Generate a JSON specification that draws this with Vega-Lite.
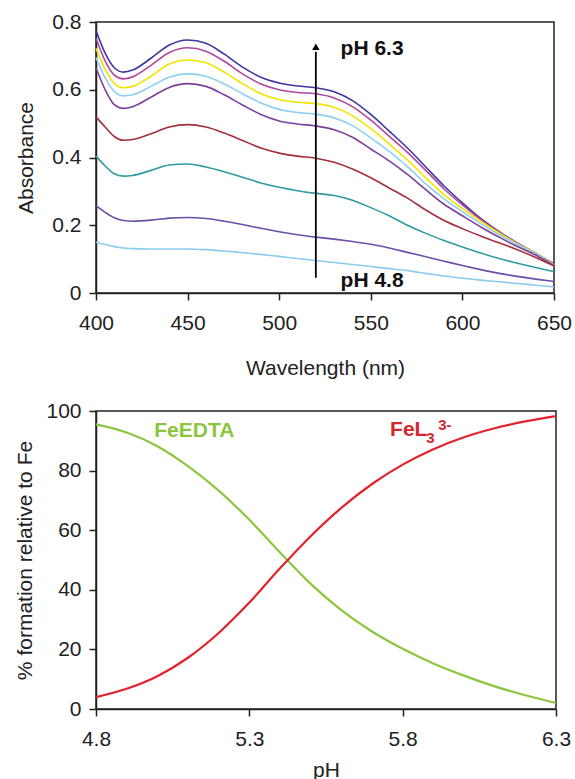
{
  "$schema": "https://vega.github.io/schema/vega-lite/v6.json",
  "padding": {"left": 14, "top": 10, "right": 10, "bottom": 0},
  "spacing": 20,
  "resolve": {"scale": {"color": "independent"}},
  "datasets": {
    "spectra": [
      {"w":400,"a":0.775,"s":"c9"},{"w":405,"a":0.708,"s":"c9"},{"w":410,"a":0.665,"s":"c9"},{"w":415,"a":0.652,"s":"c9"},{"w":420,"a":0.658,"s":"c9"},{"w":430,"a":0.693,"s":"c9"},{"w":440,"a":0.732,"s":"c9"},{"w":450,"a":0.747,"s":"c9"},{"w":460,"a":0.737,"s":"c9"},{"w":470,"a":0.705,"s":"c9"},{"w":480,"a":0.667,"s":"c9"},{"w":490,"a":0.637,"s":"c9"},{"w":500,"a":0.62,"s":"c9"},{"w":510,"a":0.611,"s":"c9"},{"w":520,"a":0.606,"s":"c9"},{"w":530,"a":0.594,"s":"c9"},{"w":540,"a":0.568,"s":"c9"},{"w":550,"a":0.527,"s":"c9"},{"w":560,"a":0.478,"s":"c9"},{"w":570,"a":0.428,"s":"c9"},{"w":580,"a":0.372,"s":"c9"},{"w":590,"a":0.316,"s":"c9"},{"w":600,"a":0.266,"s":"c9"},{"w":610,"a":0.22,"s":"c9"},{"w":620,"a":0.181,"s":"c9"},{"w":630,"a":0.147,"s":"c9"},{"w":640,"a":0.116,"s":"c9"},{"w":650,"a":0.086,"s":"c9"},
      {"w":400,"a":0.752,"s":"c8"},{"w":405,"a":0.685,"s":"c8"},{"w":410,"a":0.643,"s":"c8"},{"w":415,"a":0.632,"s":"c8"},{"w":420,"a":0.638,"s":"c8"},{"w":430,"a":0.672,"s":"c8"},{"w":440,"a":0.71,"s":"c8"},{"w":450,"a":0.724,"s":"c8"},{"w":460,"a":0.714,"s":"c8"},{"w":470,"a":0.684,"s":"c8"},{"w":480,"a":0.647,"s":"c8"},{"w":490,"a":0.617,"s":"c8"},{"w":500,"a":0.6,"s":"c8"},{"w":510,"a":0.592,"s":"c8"},{"w":520,"a":0.588,"s":"c8"},{"w":530,"a":0.576,"s":"c8"},{"w":540,"a":0.55,"s":"c8"},{"w":550,"a":0.51,"s":"c8"},{"w":560,"a":0.463,"s":"c8"},{"w":570,"a":0.415,"s":"c8"},{"w":580,"a":0.362,"s":"c8"},{"w":590,"a":0.307,"s":"c8"},{"w":600,"a":0.26,"s":"c8"},{"w":610,"a":0.217,"s":"c8"},{"w":620,"a":0.18,"s":"c8"},{"w":630,"a":0.147,"s":"c8"},{"w":640,"a":0.118,"s":"c8"},{"w":650,"a":0.084,"s":"c8"},
      {"w":400,"a":0.722,"s":"c7"},{"w":405,"a":0.66,"s":"c7"},{"w":410,"a":0.618,"s":"c7"},{"w":415,"a":0.606,"s":"c7"},{"w":420,"a":0.61,"s":"c7"},{"w":430,"a":0.64,"s":"c7"},{"w":440,"a":0.676,"s":"c7"},{"w":450,"a":0.688,"s":"c7"},{"w":460,"a":0.68,"s":"c7"},{"w":470,"a":0.652,"s":"c7"},{"w":480,"a":0.618,"s":"c7"},{"w":490,"a":0.588,"s":"c7"},{"w":500,"a":0.571,"s":"c7"},{"w":510,"a":0.563,"s":"c7"},{"w":520,"a":0.559,"s":"c7"},{"w":530,"a":0.548,"s":"c7"},{"w":540,"a":0.523,"s":"c7"},{"w":550,"a":0.485,"s":"c7"},{"w":560,"a":0.44,"s":"c7"},{"w":570,"a":0.393,"s":"c7"},{"w":580,"a":0.34,"s":"c7"},{"w":590,"a":0.29,"s":"c7"},{"w":600,"a":0.25,"s":"c7"},{"w":610,"a":0.212,"s":"c7"},{"w":620,"a":0.177,"s":"c7"},{"w":630,"a":0.145,"s":"c7"},{"w":640,"a":0.117,"s":"c7"},{"w":650,"a":0.083,"s":"c7"},
      {"w":400,"a":0.695,"s":"c6"},{"w":405,"a":0.635,"s":"c6"},{"w":410,"a":0.595,"s":"c6"},{"w":415,"a":0.582,"s":"c6"},{"w":420,"a":0.585,"s":"c6"},{"w":430,"a":0.61,"s":"c6"},{"w":440,"a":0.637,"s":"c6"},{"w":450,"a":0.647,"s":"c6"},{"w":460,"a":0.64,"s":"c6"},{"w":470,"a":0.617,"s":"c6"},{"w":480,"a":0.588,"s":"c6"},{"w":490,"a":0.561,"s":"c6"},{"w":500,"a":0.542,"s":"c6"},{"w":510,"a":0.533,"s":"c6"},{"w":520,"a":0.528,"s":"c6"},{"w":530,"a":0.517,"s":"c6"},{"w":540,"a":0.494,"s":"c6"},{"w":550,"a":0.458,"s":"c6"},{"w":560,"a":0.418,"s":"c6"},{"w":570,"a":0.373,"s":"c6"},{"w":580,"a":0.322,"s":"c6"},{"w":590,"a":0.278,"s":"c6"},{"w":600,"a":0.24,"s":"c6"},{"w":610,"a":0.205,"s":"c6"},{"w":620,"a":0.172,"s":"c6"},{"w":630,"a":0.143,"s":"c6"},{"w":640,"a":0.116,"s":"c6"},{"w":650,"a":0.081,"s":"c6"},
      {"w":400,"a":0.665,"s":"c5"},{"w":405,"a":0.6,"s":"c5"},{"w":410,"a":0.556,"s":"c5"},{"w":415,"a":0.545,"s":"c5"},{"w":420,"a":0.55,"s":"c5"},{"w":430,"a":0.578,"s":"c5"},{"w":440,"a":0.607,"s":"c5"},{"w":450,"a":0.618,"s":"c5"},{"w":460,"a":0.61,"s":"c5"},{"w":470,"a":0.585,"s":"c5"},{"w":480,"a":0.555,"s":"c5"},{"w":490,"a":0.527,"s":"c5"},{"w":500,"a":0.508,"s":"c5"},{"w":510,"a":0.499,"s":"c5"},{"w":520,"a":0.493,"s":"c5"},{"w":530,"a":0.482,"s":"c5"},{"w":540,"a":0.46,"s":"c5"},{"w":550,"a":0.425,"s":"c5"},{"w":560,"a":0.39,"s":"c5"},{"w":570,"a":0.35,"s":"c5"},{"w":580,"a":0.305,"s":"c5"},{"w":590,"a":0.262,"s":"c5"},{"w":600,"a":0.228,"s":"c5"},{"w":610,"a":0.195,"s":"c5"},{"w":620,"a":0.165,"s":"c5"},{"w":630,"a":0.137,"s":"c5"},{"w":640,"a":0.112,"s":"c5"},{"w":650,"a":0.08,"s":"c5"},
      {"w":400,"a":0.52,"s":"c4"},{"w":405,"a":0.49,"s":"c4"},{"w":410,"a":0.462,"s":"c4"},{"w":415,"a":0.451,"s":"c4"},{"w":420,"a":0.453,"s":"c4"},{"w":430,"a":0.47,"s":"c4"},{"w":440,"a":0.49,"s":"c4"},{"w":450,"a":0.497,"s":"c4"},{"w":460,"a":0.49,"s":"c4"},{"w":470,"a":0.472,"s":"c4"},{"w":480,"a":0.45,"s":"c4"},{"w":490,"a":0.428,"s":"c4"},{"w":500,"a":0.413,"s":"c4"},{"w":510,"a":0.404,"s":"c4"},{"w":520,"a":0.398,"s":"c4"},{"w":530,"a":0.386,"s":"c4"},{"w":540,"a":0.366,"s":"c4"},{"w":550,"a":0.34,"s":"c4"},{"w":560,"a":0.31,"s":"c4"},{"w":570,"a":0.28,"s":"c4"},{"w":580,"a":0.245,"s":"c4"},{"w":590,"a":0.214,"s":"c4"},{"w":600,"a":0.19,"s":"c4"},{"w":610,"a":0.168,"s":"c4"},{"w":620,"a":0.148,"s":"c4"},{"w":630,"a":0.128,"s":"c4"},{"w":640,"a":0.105,"s":"c4"},{"w":650,"a":0.08,"s":"c4"},
      {"w":400,"a":0.404,"s":"c3"},{"w":405,"a":0.375,"s":"c3"},{"w":410,"a":0.352,"s":"c3"},{"w":415,"a":0.345,"s":"c3"},{"w":420,"a":0.347,"s":"c3"},{"w":430,"a":0.362,"s":"c3"},{"w":440,"a":0.378,"s":"c3"},{"w":450,"a":0.381,"s":"c3"},{"w":460,"a":0.372,"s":"c3"},{"w":470,"a":0.358,"s":"c3"},{"w":480,"a":0.342,"s":"c3"},{"w":490,"a":0.325,"s":"c3"},{"w":500,"a":0.312,"s":"c3"},{"w":510,"a":0.302,"s":"c3"},{"w":520,"a":0.294,"s":"c3"},{"w":530,"a":0.288,"s":"c3"},{"w":540,"a":0.274,"s":"c3"},{"w":550,"a":0.252,"s":"c3"},{"w":560,"a":0.228,"s":"c3"},{"w":570,"a":0.2,"s":"c3"},{"w":580,"a":0.176,"s":"c3"},{"w":590,"a":0.155,"s":"c3"},{"w":600,"a":0.136,"s":"c3"},{"w":610,"a":0.118,"s":"c3"},{"w":620,"a":0.102,"s":"c3"},{"w":630,"a":0.088,"s":"c3"},{"w":640,"a":0.075,"s":"c3"},{"w":650,"a":0.063,"s":"c3"},
      {"w":400,"a":0.258,"s":"c2"},{"w":405,"a":0.238,"s":"c2"},{"w":410,"a":0.222,"s":"c2"},{"w":415,"a":0.214,"s":"c2"},{"w":420,"a":0.212,"s":"c2"},{"w":430,"a":0.215,"s":"c2"},{"w":440,"a":0.221,"s":"c2"},{"w":450,"a":0.223,"s":"c2"},{"w":460,"a":0.22,"s":"c2"},{"w":470,"a":0.212,"s":"c2"},{"w":480,"a":0.202,"s":"c2"},{"w":490,"a":0.191,"s":"c2"},{"w":500,"a":0.181,"s":"c2"},{"w":510,"a":0.172,"s":"c2"},{"w":520,"a":0.165,"s":"c2"},{"w":530,"a":0.159,"s":"c2"},{"w":540,"a":0.152,"s":"c2"},{"w":550,"a":0.144,"s":"c2"},{"w":560,"a":0.133,"s":"c2"},{"w":570,"a":0.12,"s":"c2"},{"w":580,"a":0.107,"s":"c2"},{"w":590,"a":0.094,"s":"c2"},{"w":600,"a":0.081,"s":"c2"},{"w":610,"a":0.069,"s":"c2"},{"w":620,"a":0.058,"s":"c2"},{"w":630,"a":0.049,"s":"c2"},{"w":640,"a":0.041,"s":"c2"},{"w":650,"a":0.034,"s":"c2"},
      {"w":400,"a":0.15,"s":"c1"},{"w":405,"a":0.143,"s":"c1"},{"w":410,"a":0.137,"s":"c1"},{"w":415,"a":0.133,"s":"c1"},{"w":420,"a":0.131,"s":"c1"},{"w":430,"a":0.13,"s":"c1"},{"w":440,"a":0.13,"s":"c1"},{"w":450,"a":0.13,"s":"c1"},{"w":460,"a":0.128,"s":"c1"},{"w":470,"a":0.124,"s":"c1"},{"w":480,"a":0.119,"s":"c1"},{"w":490,"a":0.114,"s":"c1"},{"w":500,"a":0.108,"s":"c1"},{"w":510,"a":0.102,"s":"c1"},{"w":520,"a":0.096,"s":"c1"},{"w":530,"a":0.09,"s":"c1"},{"w":540,"a":0.084,"s":"c1"},{"w":550,"a":0.078,"s":"c1"},{"w":560,"a":0.072,"s":"c1"},{"w":570,"a":0.066,"s":"c1"},{"w":580,"a":0.058,"s":"c1"},{"w":590,"a":0.05,"s":"c1"},{"w":600,"a":0.044,"s":"c1"},{"w":610,"a":0.038,"s":"c1"},{"w":620,"a":0.033,"s":"c1"},{"w":630,"a":0.028,"s":"c1"},{"w":640,"a":0.023,"s":"c1"},{"w":650,"a":0.018,"s":"c1"}
    ],
    "species": [
      {"p":4.8,"v":95.5,"s":"FeEDTA"},{"p":4.9,"v":92.8,"s":"FeEDTA"},{"p":5.0,"v":88.2,"s":"FeEDTA"},{"p":5.1,"v":81.5,"s":"FeEDTA"},{"p":5.2,"v":73.3,"s":"FeEDTA"},{"p":5.3,"v":63.5,"s":"FeEDTA"},{"p":5.4,"v":52.5,"s":"FeEDTA"},{"p":5.5,"v":42,"s":"FeEDTA"},{"p":5.6,"v":33.2,"s":"FeEDTA"},{"p":5.7,"v":26,"s":"FeEDTA"},{"p":5.8,"v":20.2,"s":"FeEDTA"},{"p":5.9,"v":15.3,"s":"FeEDTA"},{"p":6.0,"v":11.2,"s":"FeEDTA"},{"p":6.1,"v":7.6,"s":"FeEDTA"},{"p":6.2,"v":4.6,"s":"FeEDTA"},{"p":6.3,"v":2,"s":"FeEDTA"},
      {"p":4.8,"v":4,"s":"FeL3"},{"p":4.9,"v":6.8,"s":"FeL3"},{"p":5.0,"v":11,"s":"FeL3"},{"p":5.1,"v":17.2,"s":"FeL3"},{"p":5.2,"v":25.5,"s":"FeL3"},{"p":5.3,"v":35.7,"s":"FeL3"},{"p":5.4,"v":47.2,"s":"FeL3"},{"p":5.5,"v":58,"s":"FeL3"},{"p":5.6,"v":67.5,"s":"FeL3"},{"p":5.7,"v":75.5,"s":"FeL3"},{"p":5.8,"v":82,"s":"FeL3"},{"p":5.9,"v":87.2,"s":"FeL3"},{"p":6.0,"v":91.2,"s":"FeL3"},{"p":6.1,"v":94.2,"s":"FeL3"},{"p":6.2,"v":96.5,"s":"FeL3"},{"p":6.3,"v":98.3,"s":"FeL3"}
    ]
  },
  "vconcat": [
    {
      "width": 458,
      "height": 271,
      "layer": [
        {
          "data": {"name": "spectra"},
          "mark": {"type": "line", "interpolate": "monotone", "strokeWidth": 1.6},
          "encoding": {
            "x": {"field": "w", "type": "quantitative", "scale": {"domain": [400, 650], "nice": false},
                  "axis": {"title": "Wavelength (nm)", "values": [400, 450, 500, 550, 600, 650], "labelFlush": false, "labelPadding": 12, "titlePadding": 24}},
            "y": {"field": "a", "type": "quantitative", "scale": {"domain": [0, 0.8], "nice": false},
                  "axis": {"title": "Absorbance", "values": [0, 0.2, 0.4, 0.6, 0.8], "format": ".1~f", "labelPadding": 8, "titlePadding": 15}},
            "color": {"field": "s", "type": "nominal", "legend": null,
                      "scale": {"domain": ["c1","c2","c3","c4","c5","c6","c7","c8","c9"],
                                "range": ["#8ccbee","#6b4fa8","#2f9aa0","#a3303a","#7d3f9e","#8fd0f0","#f2e400","#b0479e","#3f35a0"]}}
          }
        },
        {
          "data": {"values": [{"w": 520, "a": 0.045, "a2": 0.712}]},
          "mark": {"type": "rule", "color": "black", "strokeWidth": 1.8},
          "encoding": {"x": {"field": "w", "type": "quantitative"}, "y": {"field": "a", "type": "quantitative"}, "y2": {"field": "a2"}}
        },
        {
          "data": {"values": [{"w": 520, "a": 0.727}]},
          "mark": {"type": "point", "shape": "triangle-up", "filled": true, "color": "black", "opacity": 1, "size": 55},
          "encoding": {"x": {"field": "w", "type": "quantitative"}, "y": {"field": "a", "type": "quantitative"}}
        },
        {
          "data": {"values": [{"w": 533.5, "a": 0.72, "t": "pH 6.3"}, {"w": 533.5, "a": 0.035, "t": "pH 4.8"}]},
          "mark": {"type": "text", "align": "left", "baseline": "middle", "fontWeight": "bold", "fontSize": 21, "color": "#111"},
          "encoding": {"x": {"field": "w", "type": "quantitative"}, "y": {"field": "a", "type": "quantitative"}, "text": {"field": "t"}}
        }
      ]
    },
    {
      "width": 460,
      "height": 298,
      "layer": [
        {
          "data": {"name": "species"},
          "mark": {"type": "line", "interpolate": "monotone", "strokeWidth": 2.2},
          "encoding": {
            "x": {"field": "p", "type": "quantitative", "scale": {"domain": [4.8, 6.3], "nice": false},
                  "axis": {"title": "pH", "values": [4.8, 5.3, 5.8, 6.3], "format": ".1f", "labelFlush": false, "labelPadding": 12, "titlePadding": 10}},
            "y": {"field": "v", "type": "quantitative", "scale": {"domain": [0, 100], "nice": false},
                  "axis": {"title": "% formation relative to Fe", "values": [0, 20, 40, 60, 80, 100], "labelPadding": 8, "titlePadding": 10}},
            "color": {"field": "s", "type": "nominal", "legend": null,
                      "scale": {"domain": ["FeEDTA", "FeL3"], "range": ["#8cc63f", "#e3232b"]}}
          }
        },
        {
          "data": {"values": [{"p": 4.99, "v": 93.3, "t": "FeEDTA"}]},
          "mark": {"type": "text", "align": "left", "baseline": "middle", "fontWeight": "bold", "fontSize": 21, "color": "#8cc63f"},
          "encoding": {"x": {"field": "p", "type": "quantitative"}, "y": {"field": "v", "type": "quantitative"}, "text": {"field": "t"}}
        },
        {
          "data": {"values": [{"p": 5.759, "v": 93.6, "t": "FeL"}]},
          "mark": {"type": "text", "align": "left", "baseline": "middle", "fontWeight": "bold", "fontSize": 21, "color": "#d7262f"},
          "encoding": {"x": {"field": "p", "type": "quantitative"}, "y": {"field": "v", "type": "quantitative"}, "text": {"field": "t"}}
        },
        {
          "data": {"values": [{"p": 5.877, "v": 90.9, "t": "3"}]},
          "mark": {"type": "text", "align": "left", "baseline": "middle", "fontWeight": "bold", "fontSize": 15, "color": "#d7262f"},
          "encoding": {"x": {"field": "p", "type": "quantitative"}, "y": {"field": "v", "type": "quantitative"}, "text": {"field": "t"}}
        },
        {
          "data": {"values": [{"p": 5.916, "v": 95.2, "t": "3-"}]},
          "mark": {"type": "text", "align": "left", "baseline": "middle", "fontWeight": "bold", "fontSize": 15, "color": "#d7262f"},
          "encoding": {"x": {"field": "p", "type": "quantitative"}, "y": {"field": "v", "type": "quantitative"}, "text": {"field": "t"}}
        }
      ]
    }
  ],
  "config": {
    "font": "Liberation Sans",
    "view": {"stroke": "#222", "strokeWidth": 1.5},
    "axis": {
      "grid": false,
      "domainColor": "#222", "domainWidth": 1.5,
      "tickColor": "#222", "tickWidth": 1.5, "tickSize": 7,
      "labelFont": "Liberation Sans", "labelFontSize": 21, "labelColor": "#222",
      "titleFont": "Liberation Sans", "titleFontSize": 21, "titleFontWeight": "normal", "titleColor": "#222"
    }
  }
}
